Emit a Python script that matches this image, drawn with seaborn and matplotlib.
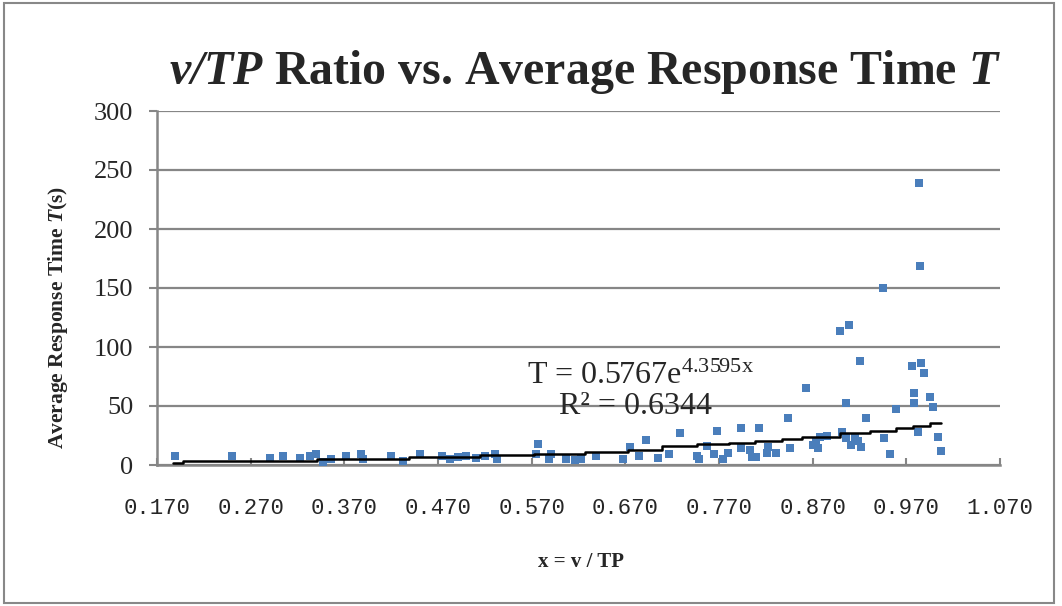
import matplotlib
matplotlib.use("Agg")
import matplotlib.pyplot as plt
import seaborn as sns
import numpy as np
import pandas as pd
from matplotlib.patches import Rectangle

# ---------------- data ----------------
x_ratio = [0.189, 0.250, 0.291, 0.304, 0.323, 0.333, 0.340, 0.347, 0.356, 0.372,
           0.388, 0.390, 0.420, 0.433, 0.451, 0.474, 0.483, 0.491, 0.500, 0.511,
           0.520, 0.533, 0.531, 0.577, 0.575, 0.591, 0.589, 0.607, 0.616, 0.623,
           0.639, 0.668, 0.675, 0.685, 0.692, 0.705, 0.717, 0.728, 0.746, 0.749,
           0.757, 0.765, 0.768, 0.774, 0.780, 0.794, 0.794, 0.803, 0.805, 0.810,
           0.813, 0.821, 0.822, 0.831, 0.844, 0.846, 0.863, 0.870, 0.874, 0.876,
           0.878, 0.885, 0.899, 0.901, 0.906, 0.906, 0.909, 0.911, 0.915, 0.918,
           0.920, 0.922, 0.927, 0.945, 0.946, 0.953, 0.959, 0.976, 0.978, 0.978,
           0.982, 0.984, 0.985, 0.986, 0.989, 0.995, 0.998, 1.004, 1.007]
t_avg = [7.9, 7.9, 6.2, 7.9, 6.2, 7.9, 9.3, 2.5, 5.1, 7.9,
         9.3, 5.1, 7.9, 3.6, 9.3, 7.9, 5.1, 7.0, 7.9, 5.9,
         7.9, 5.1, 9.3, 17.8, 9.3, 9.3, 5.1, 4.8, 4.2, 4.8,
         7.6, 4.8, 15.0, 7.6, 21.2, 6.2, 9.1, 27.4, 7.6, 4.8,
         16.1, 9.1, 29.1, 4.8, 10.4, 31.1, 14.2, 12.7, 7.0, 7.0,
         31.1, 10.4, 15.5, 10.4, 39.6, 14.2, 65.5, 16.9, 19.7, 14.2,
         24.0, 24.6, 113.8, 28.2, 52.8, 23.1, 118.6, 16.9, 22.6, 20.6,
         88.4, 15.5, 39.6, 149.7, 22.6, 9.1, 47.2, 84.2, 61.3, 52.8,
         28.2, 239.2, 168.9, 86.2, 78.2, 57.9, 49.4, 23.5, 12.1]

# exponential trend line as drawn in the picture (stair-stepped vertices)
trend_x = [0.187, 0.198, 0.341, 0.439, 0.515, 0.573, 0.627, 0.673, 0.709, 0.746,
           0.781, 0.808, 0.837, 0.859, 0.899, 0.931, 0.959, 0.977, 0.995, 1.007]
trend_y = [1.3, 3.0, 4.7, 6.4, 8.1, 9.3, 11.0, 13.1, 15.7, 17.5,
           18.9, 20.6, 22.0, 24.0, 26.9, 28.8, 31.6, 33.3, 35.3, 35.3]

eq_text = "T = 0.5767e$^{\\mathrm{4.3595x}}$"
r2_text = "R² = 0.6344"

x_ticks = [0.170, 0.270, 0.370, 0.470, 0.570, 0.670, 0.770, 0.870, 0.970, 1.070]
x_ticklabels = ["0.170", "0.270", "0.370", "0.470", "0.570", "0.670", "0.770", "0.870", "0.970", "1.070"]
y_ticks = [0, 50, 100, 150, 200, 250, 300]

# ---------------- styling ----------------
sns.set_theme(style="white")
plt.rcParams['font.family'] = ['Liberation Serif', 'DejaVu Serif']
plt.rcParams['mathtext.fontset'] = 'custom'
plt.rcParams['mathtext.rm'] = 'Liberation Serif'
plt.rcParams['mathtext.it'] = 'Liberation Serif:italic'
plt.rcParams['mathtext.bf'] = 'Liberation Serif:bold'
plt.rcParams['mathtext.bfit'] = 'Liberation Serif:italic:bold'

fig = plt.figure(figsize=(10.62, 6.06), dpi=100)
fig.patch.set_facecolor("white")
ax = fig.add_axes([157/1062, 1-465/606, 843/1062, 354/606])

df = pd.DataFrame({"x": x_ratio, "T": t_avg})
sns.scatterplot(data=df, x="x", y="T", ax=ax, marker="s", s=34,
                color="#4A7EBB", linewidth=0, zorder=3)
sns.lineplot(x=trend_x, y=trend_y, ax=ax, color="black", linewidth=1.8,
             drawstyle="steps-post", zorder=4)

ax.set_xlim(0.170, 1.070)
ax.set_ylim(0, 300)
ax.set_xticks(x_ticks)
ax.set_xticklabels(x_ticklabels, family="Liberation Mono", fontsize=16)
ax.set_yticks(y_ticks)
ax.tick_params(axis="y", labelsize=19, direction="out", length=6, width=1.5,
               color="#868686", pad=11, left=True)
ax.tick_params(axis="x", direction="in", length=5, width=1.5, color="#868686",
               pad=24, bottom=True)
ax.grid(axis="y", color="#868686", linewidth=1.6)
ax.grid(axis="x", visible=False)
ax.set_axisbelow(True)
for s in ["top", "right"]:
    ax.spines[s].set_visible(False)
for s in ["left", "bottom"]:
    ax.spines[s].set_color("#868686")
    ax.spines[s].set_linewidth(1.8)
ax.set_xlabel("")
ax.set_ylabel("")

fig.text(585/1062, 1-72/606,
         r"$\mathbfit{v/TP}$ Ratio vs. Average Response Time $\mathbfit{T}$",
         ha="center", va="center", fontsize=34.5, fontweight="bold")
fig.text(581/1062, 1-562/606, "x = v / TP", ha="center", va="center",
         fontsize=15, fontweight="bold")
fig.text(58/1062, 1-317/606, r"Average Response Time $\mathbfit{T}$(s)",
         ha="center", va="center", rotation=90, fontsize=15.5, fontweight="bold")

ax.text((640-157)/843, (465-376)/354, eq_text, transform=ax.transAxes,
        ha="center", va="center", fontsize=23)
ax.text((636-157)/843, (465-407)/354, r2_text, transform=ax.transAxes,
        ha="center", va="center", fontsize=23)

fig.patches.append(Rectangle((0.004, 0.005), 0.988, 0.99, transform=fig.transFigure,
                             fill=False, edgecolor="#888888", linewidth=1.5))

fig.savefig("out.png", dpi=100, facecolor="white")
